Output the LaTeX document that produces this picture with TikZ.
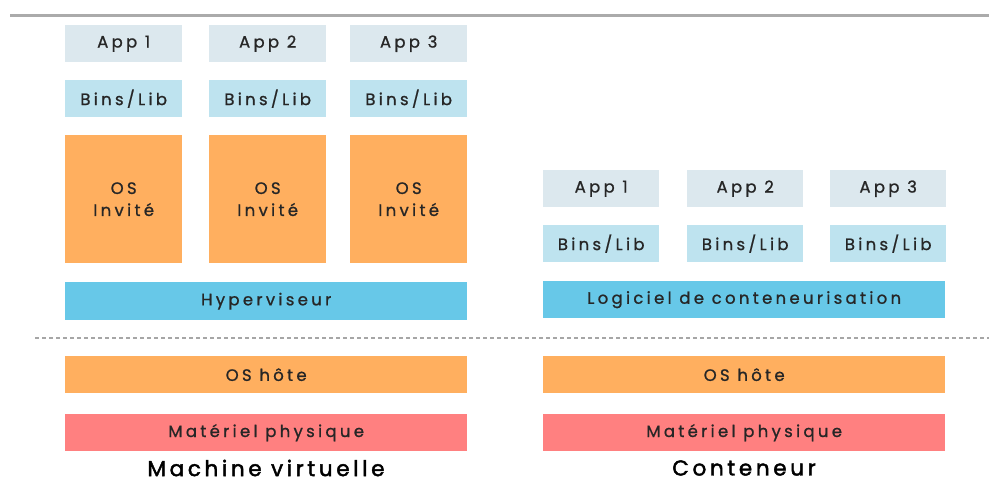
\documentclass[tikz,border=0pt]{standalone}
\usepackage{fontspec}
\setmainfont{Poppins}[LetterSpace=20, FakeBold=1]
\newfontfamily\labelfont{Poppins}[FakeBold=2, LetterSpace=17]
\begin{document}
\begin{tikzpicture}[x=1pt,y=-1pt,
  layer/.style={inner sep=0pt, anchor=north west, font=\fontsize{16.5}{19}\selectfont, text=black!85},
  appbox/.style={layer, fill=appc},
  binsbox/.style={layer, fill=binsc},
  osbox/.style={layer, fill=osc, align=center, font=\fontsize{16.5}{22}\selectfont},
  runbox/.style={layer, fill=runc},
  hwbox/.style={layer, fill=hwc},
  caption/.style={inner sep=0pt, font=\labelfont\fontsize{21.5}{24}\selectfont, text=black}
]
\definecolor{appc}{HTML}{DCE8EE}
\definecolor{binsc}{HTML}{BEE3EF}
\definecolor{osc}{HTML}{FFAF5F}
\definecolor{runc}{HTML}{67C8E8}
\definecolor{hwc}{HTML}{FF8080}
\useasboundingbox (0,0) rectangle (989,485);
% rule at the top
\draw[line width=3pt, black!33] (10,15) -- (989,15);
% virtual machine stack
\foreach \i/\x in {1/65,2/209,3/350}{
  \node[appbox, minimum width=117pt, minimum height=37pt] (vmapp\i) at (\x,25) {App \i};
  \node[binsbox, minimum width=117pt, minimum height=37pt] (vmbins\i) at (\x,80) {Bins/Lib};
  \node[osbox, minimum width=117pt, minimum height=128pt] (vmos\i) at (\x,135) {OS\\Invité};
}
\node[runbox, minimum width=402pt, minimum height=38pt] (hyper) at (65,282) {Hyperviseur};
% container stack
\foreach \i/\x in {1/543,2/687,3/830}{
  \node[appbox, minimum width=116pt, minimum height=37pt] (ctapp\i) at (\x,170) {App \i};
  \node[binsbox, minimum width=116pt, minimum height=37pt] (ctbins\i) at (\x,225) {Bins/Lib};
}
\node[runbox, minimum width=402pt, minimum height=37pt] (engine) at (543,281) {Logiciel de conteneurisation};
% separator
\draw[dashed, dash pattern=on 4pt off 3pt, line width=1.5pt, black!35] (35,338) -- (989,338);
% shared lower layers
\node[layer, fill=osc, minimum width=402pt, minimum height=37pt] (vmhost) at (65,356) {OS hôte};
\node[layer, fill=osc, minimum width=402pt, minimum height=37pt] (cthost) at (543,356) {OS hôte};
\node[hwbox, minimum width=402pt, minimum height=37pt] (vmhw) at (65,414) {Matériel physique};
\node[hwbox, minimum width=402pt, minimum height=37pt] (cthw) at (543,414) {Matériel physique};
% captions
\node[caption] (vmlabel) at (266,468) {Machine virtuelle};
\node[caption] (ctlabel) at (744,468) {Conteneur};
\end{tikzpicture}
\end{document}
